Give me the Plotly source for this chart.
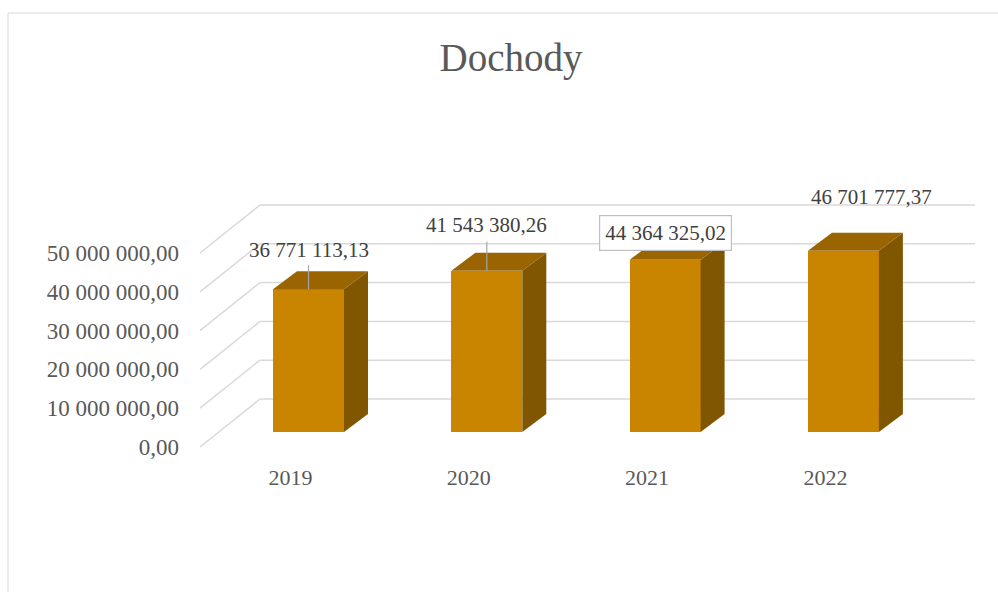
import plotly.graph_objects as go

# ---- data ----
years = ["2019", "2020", "2021", "2022"]
values = [36771113.13, 41543380.26, 44364325.02, 46701777.37]
label_texts = ["36 771 113,13", "41 543 380,26", "44 364 325,02", "46 701 777,37"]
y_ticks = [0, 10_000_000, 20_000_000, 30_000_000, 40_000_000, 50_000_000]
title_text = "Dochody"

# ---- layout geometry (pixels) ----
W, H = 998, 592
ML, MR, MT, MB = 190, 8, 100, 130
PX_L, PX_R = ML, W - MR
PX_T, PX_B = MT, H - MB
CAT_PX = 178.3          # pixel distance between categories
CAT0_PX = 308.5         # pixel x of first bar front centre
ZERO_PX = 432           # pixel y of value 0 in the bar front plane
K = 194 / 50e6          # pixels per value unit

def dx(px):
    return px / CAT_PX

def dy(px):
    return px / K

def xdata(px):
    return (px - CAT0_PX) / CAT_PX

x_range = [xdata(PX_L), xdata(PX_R)]
y_range = [(ZERO_PX - PX_B) / K, (ZERO_PX - PX_T) / K]

FRONT_COL = "#C98500"
TOP_COL = "#9A6400"
SIDE_COL = "#805600"
GRID_COL = "#D9D9D9"
FONT = "Liberation Serif"

fig = go.Figure()

idx = list(range(len(years)))
bar_w = dx(71)
ddx, ddy = dx(24), dy(18)

# front faces
fig.add_trace(go.Bar(x=idx, y=values, width=bar_w, marker=dict(color=FRONT_COL, line=dict(width=0)),
                     hoverinfo="skip", showlegend=False))

# side and top faces
for i, v in zip(idx, values):
    xl, xr = i - bar_w / 2, i + bar_w / 2
    fig.add_trace(go.Scatter(x=[xr, xr, xr + ddx, xr + ddx, xr], y=[0, v, v + ddy, ddy, 0],
                             fill="toself", fillcolor=SIDE_COL, mode="lines", line=dict(width=0),
                             hoverinfo="skip", showlegend=False))
    fig.add_trace(go.Scatter(x=[xl, xr, xr + ddx, xl + ddx, xl], y=[v, v, v + ddy, v + ddy, v],
                             fill="toself", fillcolor=TOP_COL, mode="lines", line=dict(width=0),
                             hoverinfo="skip", showlegend=False))

# back wall / side wall gridlines
front_dy = dy(-15)
back_dy = dy(33)
x_front = xdata(200)
x_back = xdata(260)
x_end = xdata(975)
shapes = []
for t in y_ticks:
    shapes.append(dict(type="line", xref="x", yref="y", x0=x_front, y0=t + front_dy, x1=x_back, y1=t + back_dy,
                       line=dict(color=GRID_COL, width=1.5), layer="below"))
    shapes.append(dict(type="line", xref="x", yref="y", x0=x_back, y0=t + back_dy, x1=x_end, y1=t + back_dy,
                       line=dict(color=GRID_COL, width=1.5), layer="below"))

# leader lines
leaders = {0: 24, 1: 29}
for i, L in leaders.items():
    shapes.append(dict(type="line", xref="x", yref="y", ysizemode="pixel", yanchor=values[i],
                       x0=i, x1=i, y0=0, y1=L, line=dict(color="#A6A6A6", width=1.2)))

# outer chart border
def xp(px):
    return (px - PX_L) / (PX_R - PX_L)

def yp(py):
    return (PX_B - py) / (PX_B - PX_T)

shapes.append(dict(type="rect", xref="paper", yref="paper", x0=xp(8), x1=xp(1010), y0=yp(13), y1=yp(620),
                   line=dict(color="#D9D9D9", width=1), fillcolor="rgba(0,0,0,0)", layer="below"))

# data labels
annos = []
shifts = [(0, 39, False), (0, 46, False), (0, 27, True), (28, 54, False)]
for i, (v, txt, (xs, ys, boxed)) in enumerate(zip(values, label_texts, shifts)):
    a = dict(x=i, y=v, xref="x", yref="y", text=txt, showarrow=False, xshift=xs, yshift=ys,
             font=dict(family=FONT, size=21, color="#404040"), xanchor="center", yanchor="middle")
    if boxed:
        a.update(bordercolor="#BFBFBF", borderwidth=1.2, borderpad=5, bgcolor="white")
    annos.append(a)

fig.update_layout(
    width=W, height=H, autosize=False,
    margin=dict(l=ML, r=MR, t=MT, b=MB),
    paper_bgcolor="white", plot_bgcolor="white",
    separators=", ",
    title=dict(text=title_text, x=511 / W, xanchor="center", y=1 - 57 / H, yanchor="middle",
               font=dict(family=FONT, size=39, color="#595959")),
    xaxis=dict(range=x_range, tickvals=[i - dx(18) for i in idx], ticktext=years, showgrid=False,
               zeroline=False, showline=False, ticks="", ticklabelstandoff=0,
               tickfont=dict(family=FONT, size=22, color="#595959"), fixedrange=True),
    yaxis=dict(range=y_range, visible=False, fixedrange=True),
    yaxis2=dict(range=[y_range[0] - front_dy, y_range[1] - front_dy], overlaying="y", side="left",
                tickvals=y_ticks, tickformat=",.2f", showgrid=False, zeroline=False, showline=False,
                ticks="", ticklabelstandoff=10, automargin=False,
                tickfont=dict(family=FONT, size=23, color="#595959"), fixedrange=True),
    shapes=shapes, annotations=annos, showlegend=False, bargap=0,
)
# dummy trace to activate yaxis2
fig.add_trace(go.Scatter(x=[None], y=[None], yaxis="y2", showlegend=False, hoverinfo="skip"))

fig.write_html("out.html", config={"displayModeBar": False},
               post_script="document.body.style.margin='0';document.body.style.overflow='hidden';")
